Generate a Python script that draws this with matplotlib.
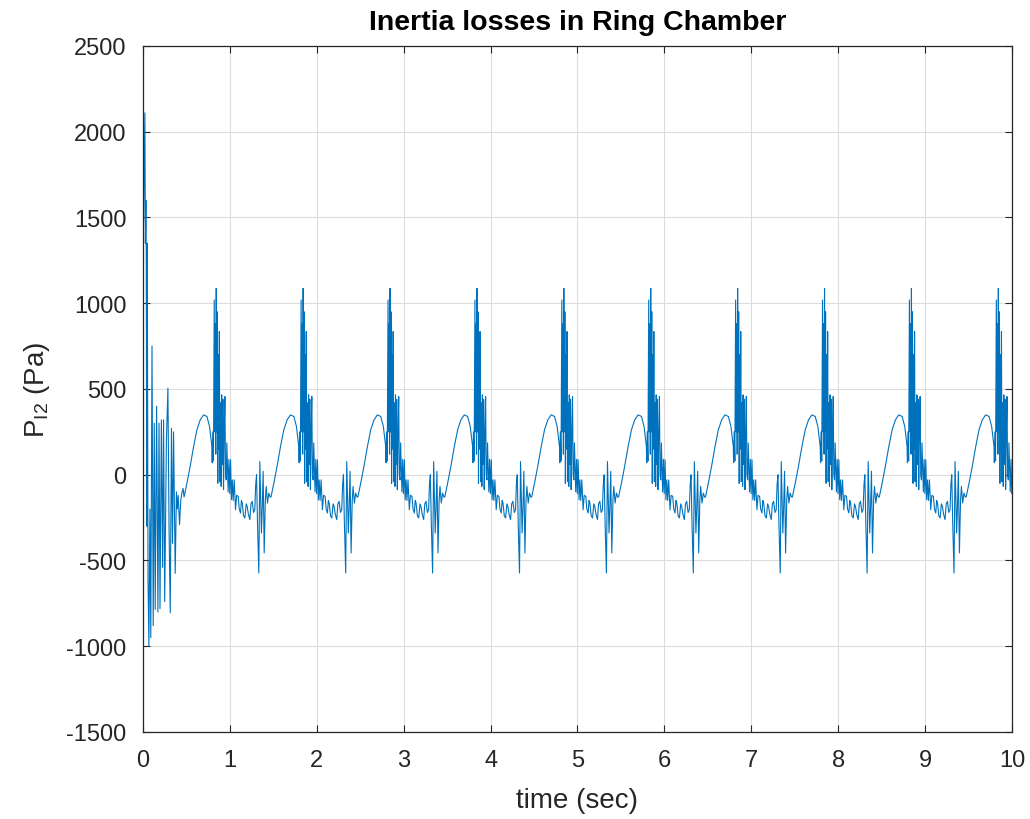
import numpy as np
import matplotlib.pyplot as plt

plt.rcParams['font.family'] = ['Liberation Sans', 'DejaVu Sans']
plt.rcParams['axes.unicode_minus'] = False

# start-up transient (time in s, pressure in Pa)
t_start = [0.000, 0.008, 0.022, 0.028, 0.034, 0.038, 0.044, 0.050, 0.058,
           0.068, 0.080, 0.090, 0.104, 0.118, 0.130, 0.141, 0.157,
           0.172, 0.185, 0.196, 0.212, 0.226, 0.237, 0.250, 0.270, 0.287,
           0.300, 0.314, 0.328, 0.340, 0.352, 0.371, 0.385, 0.395, 0.405,
           0.421, 0.435, 0.450, 0.462]
p_start = [1300, 1500, 2110, 1350, 1600, 1250, -300, 1350, -600,
           -1000, -200, -950, 750, -880, 300, -785, 400,
           -800, 300, -780, 320, -540, 320, -740, 200, 505,
           -300, -805, 270, -400, 250, -575, -100, -200, -120,
           -290, -150, -100, -80]

# one pumping cycle, time relative to the pressure peak
dt_cycle = [-0.370, -0.337, -0.300, -0.260, -0.222, -0.184, -0.146, -0.107,
            -0.077, -0.058, -0.050, -0.046, -0.040, -0.032, -0.023, -0.017,
            -0.010, -0.005, 0.000, 0.006, 0.012, 0.018, 0.024, 0.030,
            0.036, 0.042, 0.050, 0.057, 0.063, 0.070, 0.077, 0.084,
            0.092, 0.100, 0.107, 0.115, 0.122, 0.130, 0.137, 0.146,
            0.155, 0.165, 0.175, 0.185, 0.195, 0.207, 0.222, 0.235,
            0.253, 0.265, 0.280, 0.290, 0.300, 0.315, 0.330, 0.345,
            0.356, 0.370, 0.387, 0.400, 0.414, 0.430, 0.444, 0.454,
            0.464, 0.475, 0.490, 0.502, 0.510, 0.520, 0.529, 0.540,
            0.552, 0.565, 0.575, 0.590, 0.605, 0.620]
p_cycle = [-130, -49, 49, 165, 262, 320, 349, 340,
           282, 200, 165, 70, 250, 80, 1019, 250,
           880, 120, 1087, 250, 950, -50, 700, 150,
           835, -40, 420, -68, 466, 60, 440, -87,
           250, 456, 0, -30, 186, 40, -100, 90,
           -110, 87, -146, -30, -150, -30, -204, -120,
           -126, -200, -223, -150, -165, -240, -252, -170,
           -184, -230, -262, -170, -155, -220, -204, -60,
           0, -282, -573, 77, -100, -340, -200, 20,
           -456, -150, -68, -165, -107, -130]

peak_times = [0.843, 1.843, 2.843, 3.843, 4.843, 5.843, 6.843, 7.843, 8.843, 9.843]

t = list(t_start)
p = list(p_start)
for tp in peak_times:
    for dt, v in zip(dt_cycle, p_cycle):
        if tp + dt <= 10.0:
            t.append(tp + dt)
            p.append(v)
t = np.array(t)
p = np.array(p)

fig = plt.figure(figsize=(10.3, 8.2), dpi=100)
ax = fig.add_axes([0.1388, 0.1061, 0.8437, 0.8366])
ax.plot(t, p, color='#0072BD', lw=0.8)

ax.set_xlim(0, 10)
ax.set_ylim(-1500, 2500)
ax.set_xticks(np.arange(0, 11, 1))
ax.set_yticks(np.arange(-1500, 2501, 500))
ax.grid(True, color='#dcdcdc', lw=0.8)
ax.set_axisbelow(True)
ax.tick_params(direction='in', top=True, right=True, length=5, width=0.8,
               labelsize=17, colors='#262626')
ax.tick_params(axis='x', pad=12)
ax.tick_params(axis='y', pad=12)
for s in ax.spines.values():
    s.set_color('#262626')
    s.set_linewidth(0.9)

ax.set_title('Inertia losses in Ring Chamber', fontsize=20.5, fontweight='bold',
             color='black', pad=12)
ax.set_xlabel('time (sec)', fontsize=20, color='#262626', labelpad=12)
ax.set_ylabel(r'P$_{\mathregular{I2}}$ (Pa)', fontsize=20, color='#262626', labelpad=10)

fig.savefig('out.png', dpi=100)
